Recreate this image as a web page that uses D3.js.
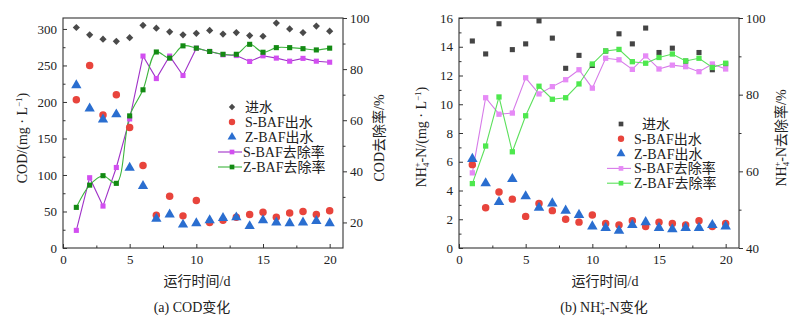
<!DOCTYPE html>
<html>
<head>
<meta charset="utf-8">
<script src="https://d3js.org/d3.v7.min.js"></script>
<style>
  body { margin: 0; background: #fff; }
  text { font-family: "Liberation Serif", "Times New Roman", "Noto Sans CJK SC", serif; fill: #222; }
</style>
</head>
<body>
<svg id="chart" width="792" height="322"></svg>
<script>
// days
var days = d3.range(1, 21);

// (a) COD
var codIn   = [302, 292, 286, 283, 288, 305, 301, 296, 292, 294, 298, 293, 295, 291, 290, 308, 300, 295, 304, 297];
var codSOut = [203, 250, 182, 210, 165, 113, 45, 71, 44, 65, 35, 38, 42, 46, 49, 42, 48, 50, 46, 51];
var codZOut = [223, 191, 176, 183, 110, 85, 40, 46, 32, 34, 38, 41, 42, 30, 38, 35, 34, 35, 37, 34];
var codSRem = [16.9, 37.5, 26.4, 41.5, 60.5, 85.1, 76.3, 85.1, 77.5, 88.2, 86.9, 85.6, 85.3, 83.0, 85.2, 84.3, 83.1, 84.2, 83.1, 82.7];
var codZRem = [25.9, 34.6, 38.3, 35.3, 61.7, 71.9, 86.7, 84.3, 89.1, 88.2, 86.9, 85.8, 85.8, 89.7, 86.6, 88.4, 88.4, 88.0, 87.5, 88.2];

// (b) NH4+-N
var nhIn   = [14.4, 13.5, 15.6, 13.8, 14.2, 15.8, 14.6, 12.5, 13.4, 12.7, 13.7, 14.9, 14.2, 15.3, 13.6, 13.9, 13.0, 13.6, 12.4, 12.8];
var nhSOut = [5.8, 2.8, 3.9, 3.4, 2.2, 3.1, 2.6, 2.0, 1.8, 2.3, 1.7, 1.6, 1.9, 1.5, 1.8, 1.7, 1.6, 1.9, 1.5, 1.7];
var nhZOut = [6.2, 4.5, 3.2, 4.8, 3.6, 2.8, 3.1, 2.6, 2.3, 1.5, 1.4, 1.2, 1.6, 1.8, 1.4, 1.3, 1.4, 1.4, 1.6, 1.5];
var nhSRem = [59.6, 79.2, 74.9, 75.2, 84.4, 80.2, 82.1, 83.9, 86.5, 81.7, 89.5, 89.1, 86.6, 90.1, 86.7, 87.7, 87.3, 86.0, 88.0, 86.7];
var nhZRem = [56.8, 66.6, 79.4, 65.1, 74.5, 82.2, 78.8, 79.2, 82.8, 88.0, 91.4, 91.8, 88.6, 88.2, 89.7, 90.6, 88.8, 89.5, 87.1, 88.2];

var xTicks = [0, 5, 10, 15, 20];

var svg = d3.select("#chart");
var serif = '"Liberation Serif", "Times New Roman", serif';

function drawPanel(o) {
  var g = svg.append("g");
  var x = d3.scaleLinear().domain([0, 21]).range([o.x0, o.x1]);
  var yL = d3.scaleLinear().domain(o.yL).range([o.y0, o.y1]);
  var yR = d3.scaleLinear().domain(o.yR).range([o.y0, o.y1]);

  // frame
  g.append("rect").attr("x", o.x0).attr("y", o.y1)
    .attr("width", o.x1 - o.x0).attr("height", o.y0 - o.y1)
    .attr("fill", "none").attr("stroke", "#333").attr("stroke-width", 1.1);

  // bottom axis (ticks inside)
  g.append("g").attr("transform", "translate(0," + o.y0 + ")")
    .call(d3.axisBottom(x).tickValues(xTicks).tickSize(-4).tickPadding(7).tickFormat(d3.format("d")));
  g.append("g").attr("transform", "translate(0," + o.y0 + ")")
    .call(d3.axisBottom(x).tickValues([2.5, 7.5, 12.5, 17.5]).tickSize(-2.5).tickFormat(""));

  // left axis (ticks inside)
  g.append("g").attr("transform", "translate(" + o.x0 + ",0)")
    .call(d3.axisLeft(yL).tickValues(o.yLTicks).tickSize(-4).tickPadding(6).tickFormat(d3.format("d")));
  g.append("g").attr("transform", "translate(" + o.x0 + ",0)")
    .call(d3.axisLeft(yL).tickValues(o.yLMinor).tickSize(-2.5).tickFormat(""));

  // right axis (ticks outside)
  g.append("g").attr("transform", "translate(" + o.x1 + ",0)")
    .call(d3.axisRight(yR).tickValues(o.yRTicks).tickSize(4).tickPadding(3).tickFormat(d3.format("d")));
  g.append("g").attr("transform", "translate(" + o.x1 + ",0)")
    .call(d3.axisRight(yR).tickValues(o.yRMinor).tickSize(2.5).tickFormat(""));

  g.selectAll(".domain").remove();
  g.selectAll("g").attr("font-family", serif);
  g.selectAll(".tick line").attr("stroke", "#333");
  g.selectAll(".tick text").attr("font-size", 13).attr("fill", "#222").style("font-family", serif);

  // lines for removal rates
  o.lines.forEach(function(s) {
    var line = d3.line().x(function(d, i) { return x(days[i]); }).y(function(d) { return yR(d); })
      .curve(s.curve || d3.curveLinear);
    g.append("path").datum(s.values).attr("d", line)
      .attr("fill", "none").attr("stroke", s.line).attr("stroke-width", 1.1);
  });

  // scatter markers
  o.points.forEach(function(s) {
    var sc = s.axis == "R" ? yR : yL;
    g.append("g").selectAll("path").data(s.values).enter().append("path")
      .attr("transform", function(d, i) {
        return "translate(" + x(days[i]) + "," + sc(d) + ")" + (s.rot ? " rotate(45)" : "");
      })
      .attr("d", d3.symbol().type(s.type).size(s.size))
      .attr("fill", s.color);
  });

  // legend
  o.legend.forEach(function(s, i) {
    var ly = o.legY + i * o.legGap;
    if (s.line) {
      g.append("line").attr("x1", o.legX - 14).attr("x2", o.legX + 10)
        .attr("y1", ly).attr("y2", ly).attr("stroke", s.line).attr("stroke-width", 1.1);
    }
    g.append("path").attr("transform", "translate(" + o.legX + "," + ly + ")" + (s.rot ? " rotate(45)" : ""))
      .attr("d", d3.symbol().type(s.type).size(s.size)).attr("fill", s.color);
    g.append("text").attr("x", o.legX + (s.tx || 13)).attr("y", ly + 5)
      .attr("font-size", 14).text(s.name);
  });
}

var sq = d3.symbolSquare;

// (a) panel
drawPanel({
  x0: 63, x1: 343, y0: 248, y1: 18,
  yL: [0, 315], yR: [10, 100],
  yLTicks: [0, 50, 100, 150, 200, 250, 300], yLMinor: [25, 75, 125, 175, 225, 275],
  yRTicks: [20, 40, 60, 80, 100], yRMinor: [30, 50, 70, 90],
  lines: [
    { values: codSRem, line: "#a032c8" },
    { values: codZRem, line: "#3cb43c", curve: d3.curveCatmullRom }
  ],
  points: [
    { values: codIn, type: sq, size: 26, rot: true, color: "#4a4a4a", axis: "L" },
    { values: codSOut, type: d3.symbolCircle, size: 44, color: "#e8443c", axis: "L" },
    { values: codZOut, type: d3.symbolTriangle, size: 46, color: "#2a6ed0", axis: "L" },
    { values: codSRem, type: sq, size: 26, color: "#d24ef0", axis: "R" },
    { values: codZRem, type: sq, size: 26, color: "#138a13", axis: "R" }
  ],
  legX: 232, legY: 107, legGap: 15,
  legend: [
    { name: "进水", type: sq, size: 20, rot: true, color: "#4a4a4a" },
    { name: "S-BAF出水", type: d3.symbolCircle, size: 32, color: "#e8443c" },
    { name: "Z-BAF出水", type: d3.symbolTriangle, size: 34, color: "#2a6ed0" },
    { name: "S-BAF去除率", type: sq, size: 22, color: "#d24ef0", line: "#a032c8", tx: 11 },
    { name: "Z-BAF去除率", type: sq, size: 22, color: "#138a13", line: "#3cb43c", tx: 11 }
  ]
});

// (b) panel
drawPanel({
  x0: 459, x1: 739, y0: 248, y1: 18,
  yL: [0, 16], yR: [40, 100],
  yLTicks: [0, 2, 4, 6, 8, 10, 12, 14, 16], yLMinor: [1, 3, 5, 7, 9, 11, 13, 15],
  yRTicks: [40, 60, 80, 100], yRMinor: [50, 70, 90],
  lines: [
    { values: nhSRem, line: "#d67ae8" },
    { values: nhZRem, line: "#5ce05c" }
  ],
  points: [
    { values: nhIn, type: sq, size: 26, color: "#444444", axis: "L" },
    { values: nhSOut, type: d3.symbolCircle, size: 44, color: "#e8443c", axis: "L" },
    { values: nhZOut, type: d3.symbolTriangle, size: 48, color: "#2a6ed0", axis: "L" },
    { values: nhSRem, type: sq, size: 28, color: "#e68af6", axis: "R" },
    { values: nhZRem, type: sq, size: 28, color: "#4ee84e", axis: "R" }
  ],
  legX: 621, legY: 124, legGap: 14.8,
  legend: [
    { name: "进水", type: sq, size: 22, color: "#444444", tx: 21 },
    { name: "S-BAF出水", type: d3.symbolCircle, size: 32, color: "#e8443c" },
    { name: "Z-BAF出水", type: d3.symbolTriangle, size: 34, color: "#2a6ed0" },
    { name: "S-BAF去除率", type: sq, size: 22, color: "#e68af6", line: "#d67ae8", tx: 13 },
    { name: "Z-BAF去除率", type: sq, size: 22, color: "#4ee84e", line: "#5ce05c", tx: 13 }
  ]
});

// axis titles
function vTitle(cx, cy, build) {
  var t = svg.append("text").attr("transform", "translate(" + cx + "," + cy + ") rotate(-90)")
    .attr("text-anchor", "middle").attr("font-size", 14);
  build(t);
}
function nh4(t, rest) {
  t.append("tspan").text("NH");
  t.append("tspan").attr("font-size", 9).attr("dy", 3).text("4");
  t.append("tspan").attr("font-size", 9).attr("dx", -5).attr("dy", -9).text("+");
  t.append("tspan").attr("dy", 6).text(rest);
}
vTitle(27, 138, function(t) {
  t.append("tspan").text("COD/(mg · L");
  t.append("tspan").attr("font-size", 9).attr("dy", -5).text("−1");
  t.append("tspan").attr("dy", 5).text(")");
});
vTitle(384, 138, function(t) { t.text("COD去除率/%"); });
vTitle(426, 137, function(t) {
  nh4(t, "-N/(mg · L");
  t.append("tspan").attr("font-size", 9).attr("dy", -5).text("−1");
  t.append("tspan").attr("dy", 5).text(")");
});
vTitle(786, 138, function(t) { nh4(t, "-N去除率/%"); });

// x titles and captions
svg.append("text").attr("x", 197).attr("y", 286).attr("text-anchor", "middle").attr("font-size", 14).text("运行时间/d");
svg.append("text").attr("x", 605).attr("y", 286).attr("text-anchor", "middle").attr("font-size", 14).text("运行时间/d");
svg.append("text").attr("x", 192).attr("y", 312).attr("text-anchor", "middle").attr("font-size", 14).text("(a) COD变化");
var cap = svg.append("text").attr("x", 604).attr("y", 312).attr("text-anchor", "middle").attr("font-size", 14);
cap.append("tspan").text("(b) NH");
cap.append("tspan").attr("font-size", 9).attr("dy", 3).text("4");
cap.append("tspan").attr("font-size", 9).attr("dx", -5).attr("dy", -9).text("+");
cap.append("tspan").attr("dy", 6).text("-N变化");
</script>
</body>
</html>
